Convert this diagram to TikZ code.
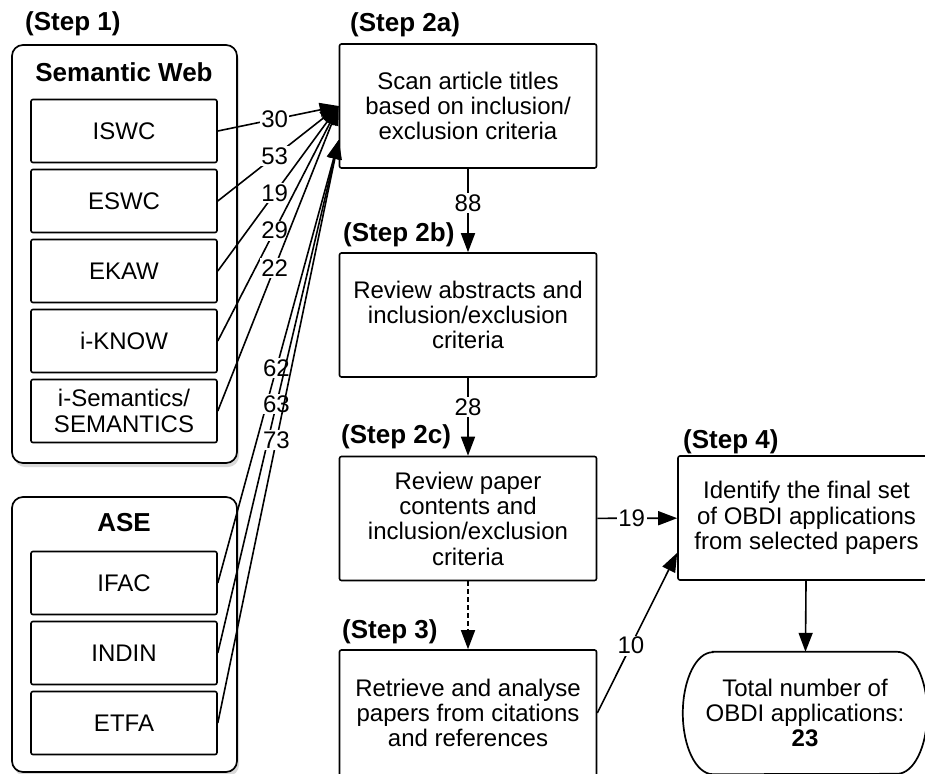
\documentclass[tikz,border=0pt]{standalone}
\usepackage{fontspec}
\setmainfont{Liberation Sans}
\usetikzlibrary{arrows.meta,shadows}

\begin{document}
\begin{tikzpicture}[x=1pt,y=-1pt,
    group/.style={draw,line width=1.7pt,rounded corners=11pt,fill=white,minimum width=225pt,
        drop shadow={opacity=0.3,shadow xshift=2pt,shadow yshift=-4pt}},
    grouptitle/.style={font=\fontsize{26}{30}\selectfont\bfseries},
    venue/.style={draw,line width=1.6pt,rounded corners=2pt,minimum width=186pt,minimum height=63pt,
        inner sep=0pt,align=center,font=\fontsize{24}{25.3}\selectfont},
    stepbox/.style={draw,line width=1.6pt,rounded corners=2pt,minimum width=257pt,minimum height=124pt,
        inner sep=0pt,align=center,font=\fontsize{24}{25.3}\selectfont},
    steplabel/.style={anchor=west,inner sep=0pt,font=\fontsize{26}{30}\selectfont\bfseries},
    flow/.style={line width=1.6pt,-{Triangle[length=19pt,width=14pt]}},
    count/.style={fill=white,inner sep=1.5pt,font=\fontsize{24}{25.3}\selectfont}]
  \useasboundingbox (0,0) rectangle (925,773);
  \clip (0,0) rectangle (925,773);

  % step 1: the two venue groups
  \node[steplabel] (l1) at (25,24) {(Step 1)};
  \node[group,minimum height=418pt] (sw) at (124.5,254) {};
  \node[grouptitle] (swtitle) at (124,72) {Semantic Web};
  \node[venue] (iswc) at (124,131) {ISWC};
  \node[venue] (eswc) at (124,201) {ESWC};
  \node[venue] (ekaw) at (124,271) {EKAW};
  \node[venue] (iknow) at (124,341) {i-KNOW};
  \node[venue] (isem) at (124,411) {i-Semantics/\\SEMANTICS};

  \node[group,minimum height=275pt] (ase) at (124.5,634.5) {};
  \node[grouptitle] (asetitle) at (124,523) {ASE};
  \node[venue] (ifac) at (124,583) {IFAC};
  \node[venue] (indin) at (124,653) {INDIN};
  \node[venue] (etfa) at (124,723) {ETFA};

  % steps 2a to 4
  \node[steplabel] (l2a) at (350,25) {(Step 2a)};
  \node[stepbox] (s2a) at (468,106) {Scan article titles\\based on inclusion/\\exclusion criteria};
  \node[steplabel] (l2b) at (343,235) {(Step 2b)};
  \node[stepbox] (s2b) at (468,315) {Review abstracts and\\inclusion/exclusion\\criteria};
  \node[steplabel] (l2c) at (341,437) {(Step 2c)};
  \node[stepbox] (s2c) at (468,518.5) {Review paper\\contents and\\inclusion/exclusion\\criteria};
  \node[steplabel] (l3) at (342,632) {(Step 3)};
  \node[stepbox,minimum height=126pt] (s3) at (468,713) {Retrieve and analyse\\papers from citations\\and references};
  \node[steplabel] (l4) at (683,442) {(Step 4)};
  \node[stepbox] (s4) at (806.5,518) {Identify the final set\\of OBDI applications\\from selected papers};
  \node[minimum width=244pt,minimum height=122pt,inner sep=0pt,
      align=center,font=\fontsize{24}{25.3}\selectfont] (total) at (805,713)
      {Total number of\\OBDI applications:\\\textbf{23}};
  \draw[line width=1.7pt] ([xshift=30pt]total.north west) -- ([xshift=-30pt]total.north east)
      arc[start angle=90,end angle=-90,x radius=30pt,y radius=61pt]
      -- ([xshift=30pt]total.south west)
      arc[start angle=270,end angle=90,x radius=30pt,y radius=61pt] -- cycle;

  \coordinate (s2aLow) at ([yshift=-34pt]s2a.west);
  \coordinate (s4In) at ([yshift=28pt]s4.south west);

  % venue counts
  \draw[flow] (iswc.east) -- node[count,pos=0.47] {30} (s2a.west);
  \draw[flow] (eswc.east) -- node[count,pos=0.47] {53} (s2a.west);
  \draw[flow] (ekaw.east) -- node[count,pos=0.47] {19} (s2a.west);
  \draw[flow] (iknow.east) -- node[count,pos=0.47] {29} (s2a.west);
  \draw[flow] (isem.east) -- node[count,pos=0.47] {22} (s2a.west);
  \draw[flow] (ifac.east) -- node[count,pos=0.485] {62} (s2aLow);
  \draw[flow] (indin.east) -- node[count,pos=0.485] {63} (s2aLow);
  \draw[flow] (etfa.east) -- node[count,pos=0.485] {73} (s2aLow);

  % flow between the steps
  \draw[flow] (s2a) -- node[count,pos=0.41] {88} (s2b);
  \draw[flow] (s2b) -- node[count,pos=0.38] {28} (s2c);
  \draw[flow,dash pattern=on 5pt off 3pt] (s2c) -- (s3);
  \draw[flow] (s2c) -- node[count,pos=0.43] {19} (s4);
  \draw[flow] (s3.east) -- node[count,pos=0.42] {10} (s4In);
  \draw[flow] (s4) -- (total);
\end{tikzpicture}
\end{document}
